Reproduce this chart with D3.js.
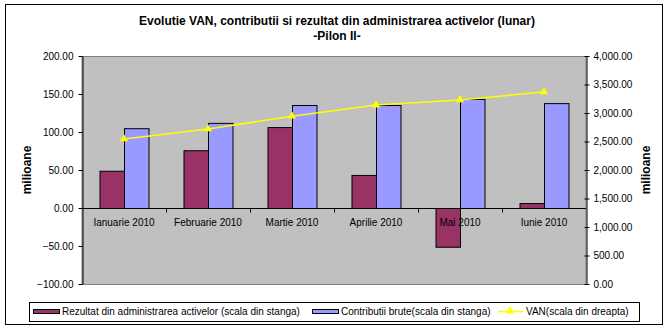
<!DOCTYPE html>
<html>
<head>
<meta charset="utf-8">
<script src="https://cdn.jsdelivr.net/npm/d3@7"></script>
<style>
  html, body { margin: 0; padding: 0; background: #fff; }
  svg { display: block; font-family: "Liberation Sans", Arial, sans-serif; }
</style>
</head>
<body>
<svg id="chart" width="672" height="330"></svg>
<script>
const categories = ['Ianuarie 2010', 'Februarie 2010', 'Martie 2010', 'Aprilie 2010', 'Mai 2010', 'Iunie 2010'];
const rezultat = [49, 76, 106.5, 43.5, -51, 6.5];
const contributii = [105, 112, 135.5, 135.5, 143.5, 138];
const van = [2545, 2720, 2945, 3140, 3230, 3370];
const leftTicks = [-100, -50, 0, 50, 100, 150, 200];
const rightTicks = [0, 500, 1000, 1500, 2000, 2500, 3000, 3500, 4000];

const svg = d3.select('#chart');
const plot = { left: 82, right: 586, top: 56, bottom: 284 };

// outer frame
svg.append('rect')
  .attr('x', 5.5).attr('y', 4.5).attr('width', 657).attr('height', 320)
  .attr('fill', '#fff').attr('stroke', '#000');

// title
svg.append('text')
  .attr('x', 337).attr('y', 25)
  .attr('text-anchor', 'middle')
  .style('font-size', '12px').style('font-weight', 'bold')
  .text('Evolutie VAN, contributii si rezultat din administrarea activelor (lunar)');
svg.append('text')
  .attr('x', 337).attr('y', 40)
  .attr('text-anchor', 'middle')
  .style('font-size', '12px').style('font-weight', 'bold')
  .text('-Pilon II-');

const x = d3.scaleBand().domain(categories).range([plot.left, plot.right]);
const yL = d3.scaleLinear().domain([-100, 200]).range([plot.bottom, plot.top]);
const yR = d3.scaleLinear().domain([0, 4000]).range([plot.bottom, plot.top]);
const barW = 24.5;
const fmt = d3.format(',.2f');

// plot area
svg.append('rect')
  .attr('x', plot.left).attr('y', plot.top + 0.5)
  .attr('width', plot.right - plot.left).attr('height', plot.bottom - plot.top)
  .attr('fill', '#c0c0c0').attr('stroke', '#808080');

// bars
const center = c => x(c) + x.bandwidth() / 2;
svg.append('g').selectAll('rect')
  .data(categories)
  .join('rect')
  .attr('x', c => center(c) - barW + 0.5)
  .attr('y', (c, i) => Math.min(yL(rezultat[i]), yL(0)) + 0.5)
  .attr('width', barW)
  .attr('height', (c, i) => Math.abs(yL(rezultat[i]) - yL(0)))
  .attr('fill', '#993366').attr('stroke', '#000');

svg.append('g').selectAll('rect')
  .data(categories)
  .join('rect')
  .attr('x', c => center(c) + 0.5)
  .attr('y', (c, i) => yL(contributii[i]) + 0.5)
  .attr('width', barW)
  .attr('height', (c, i) => yL(0) - yL(contributii[i]))
  .attr('fill', '#9999ff').attr('stroke', '#000');

// category axis along zero
const zeroY = Math.round(yL(0)) + 0.5;
svg.append('line')
  .attr('x1', plot.left).attr('x2', plot.right)
  .attr('y1', zeroY).attr('y2', zeroY)
  .attr('stroke', '#000');
svg.append('g').selectAll('line')
  .data(categories.slice(1))
  .join('line')
  .attr('x1', c => Math.round(x(c)) + 0.5).attr('x2', c => Math.round(x(c)) + 0.5)
  .attr('y1', zeroY).attr('y2', zeroY + 4)
  .attr('stroke', '#000');
svg.append('g').selectAll('text')
  .data(categories)
  .join('text')
  .attr('x', center).attr('y', 226)
  .attr('text-anchor', 'middle')
  .style('font-size', '10px')
  .text(c => c);

// left axis
const gL = svg.append('g')
  .attr('transform', `translate(${plot.left + 0.5},0)`)
  .call(d3.axisLeft(yL).tickValues(leftTicks).tickFormat(fmt).tickSize(4).tickSizeOuter(0).tickPadding(5));
gL.select('.domain').attr('stroke', '#000');
gL.selectAll('text').style('font-size', '10px').style('font-family', '"Liberation Sans", Arial, sans-serif').attr('fill', '#000');

// right axis
const gR = svg.append('g')
  .attr('transform', `translate(${plot.right + 0.5},0)`)
  .call(d3.axisRight(yR).tickValues(rightTicks).tickFormat(fmt).tickSize(3).tickSizeOuter(0).tickPadding(4));
gR.select('.domain').attr('stroke', '#000');
gR.selectAll('.tick line').attr('x1', -2).attr('x2', 3);
gR.selectAll('text').style('font-size', '10px').style('font-family', '"Liberation Sans", Arial, sans-serif').attr('fill', '#000');

// VAN line
const line = d3.line()
  .x((d, i) => center(categories[i]))
  .y(d => yR(d));
svg.append('path')
  .datum(van)
  .attr('d', line)
  .attr('fill', 'none').attr('stroke', '#ffff00').attr('stroke-width', 1.5);
const tri = d3.symbol().type(d3.symbolTriangle).size(30);
svg.append('g').selectAll('path')
  .data(van)
  .join('path')
  .attr('transform', (d, i) => `translate(${center(categories[i])},${yR(d)})`)
  .attr('d', tri)
  .attr('fill', '#ffff00');

// axis titles
svg.append('text')
  .attr('transform', 'translate(31,170) rotate(-90)')
  .attr('text-anchor', 'middle')
  .style('font-size', '12px').style('font-weight', 'bold')
  .text('milioane');
svg.append('text')
  .attr('transform', 'translate(650,170) rotate(-90)')
  .attr('text-anchor', 'middle')
  .style('font-size', '12px').style('font-weight', 'bold')
  .text('milioane');

// legend
const legend = svg.append('g');
legend.append('rect')
  .attr('x', 29.5).attr('y', 302.5).attr('width', 610).attr('height', 19)
  .attr('fill', '#fff').attr('stroke', '#000');
legend.append('rect')
  .attr('x', 33.5).attr('y', 309.5).attr('width', 26).attr('height', 4)
  .attr('fill', '#993366').attr('stroke', '#000');
legend.append('text')
  .attr('x', 62).attr('y', 315).style('font-size', '10px')
  .text('Rezultat din administrarea activelor (scala din stanga)');
legend.append('rect')
  .attr('x', 312.5).attr('y', 309.5).attr('width', 26).attr('height', 4)
  .attr('fill', '#9999ff').attr('stroke', '#000');
legend.append('text')
  .attr('x', 341).attr('y', 315).style('font-size', '10px')
  .text('Contributii brute(scala din stanga)');
legend.append('line')
  .attr('x1', 498).attr('x2', 523).attr('y1', 311.5).attr('y2', 311.5)
  .attr('stroke', '#ffff00').attr('stroke-width', 1.5);
legend.append('path')
  .attr('transform', 'translate(510,311)')
  .attr('d', tri)
  .attr('fill', '#ffff00');
legend.append('text')
  .attr('x', 526).attr('y', 315).style('font-size', '10px')
  .text('VAN(scala din dreapta)');
</script>
</body>
</html>
